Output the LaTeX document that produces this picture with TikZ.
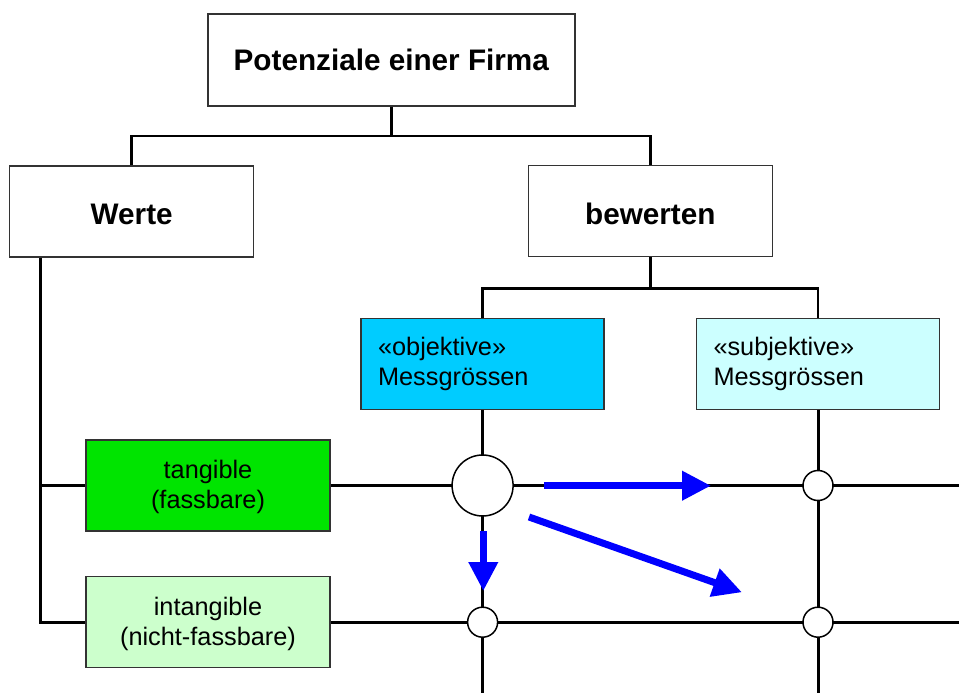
\documentclass[tikz,border=0pt]{standalone}
\usepackage{fontspec}
\setmainfont{Liberation Sans}
\usetikzlibrary{arrows.meta}
\definecolor{objcol}{HTML}{00CCFF}
\definecolor{subjcol}{HTML}{CCFFFF}
\definecolor{tangcol}{HTML}{00E400}
\definecolor{intcol}{HTML}{CCFFCC}
\definecolor{arrcol}{HTML}{0000FF}
\begin{document}
\begin{tikzpicture}[x=1pt,y=-1pt,
  box/.style={draw=black!80, line width=1.5pt, inner sep=0pt, align=center},
  titlebox/.style={box, fill=white, minimum width=244pt, minimum height=91pt,
     font=\fontsize{29.7}{34}\selectfont\bfseries},
  measbox/.style={box, minimum height=91pt, text width=209pt, inner xsep=17pt, align=left,
     font=\fontsize{25.3}{29.5}\selectfont},
  valbox/.style={box, minimum width=244pt, minimum height=91pt,
     font=\fontsize{25.3}{30.5}\selectfont, text depth=2pt},
  conn/.style={line width=2.7pt, black},
  grid/.style={line width=3pt, black},
  bigc/.style={circle, draw=black, line width=1.5pt, fill=white, minimum size=61pt, inner sep=0pt},
  smallc/.style={circle, draw=black, line width=1.5pt, fill=white, minimum size=30pt, inner sep=0pt},
  flow/.style={line width=7pt, arrcol, -{Triangle[length=29pt,width=28pt]}}
]
\useasboundingbox (0,0) rectangle (959,693);

% boxes
\node[titlebox, minimum width=367pt, minimum height=92pt] (top) at (391.3,59.8) {Potenziale einer Firma};
\node[titlebox, text height=27pt, text depth=0pt] (werte) at (131.7,211.3) {Werte};
\node[titlebox, text height=27pt, text depth=0pt] (bew) at (650.3,211) {bewerten};
\node[measbox, fill=objcol] (obj) at (482.6,363.8) {«objektive»\\Messgrössen};
\node[measbox, fill=subjcol] (subj) at (818,363.8) {«subjektive»\\Messgrössen};
\node[valbox, fill=tangcol] (tang) at (208,485.5) {tangible\\(fassbare)};
\node[valbox, fill=intcol] (intang) at (208,622.2) {intangible\\(nicht-fassbare)};

% tree connectors
\coordinate (j1) at (391.3,136);
\coordinate (j2) at (650.3,288.3);
\draw[conn] (top.south) -- (j1);
\draw[conn] (werte.north) |- (j1) -| (bew.north);
\draw[conn] (bew.south) -- (j2);
\draw[conn] (obj.north) |- (j2) -| (subj.north);

% left spine
\coordinate (wl) at (40.7,624);
\draw[grid] (werte.south -| wl) |- (intang.west);
\draw[grid] (wl |- tang.west) -- (tang.west);

% grid to the right and bottom
\coordinate (re) at (959,0);
\coordinate (bot) at (0,693);
\draw[grid] (tang.east) -- (tang.east -| re);
\draw[grid] (intang.east) -- (intang.east -| re);
\draw[grid] (obj.south) -- (obj.south |- bot);
\draw[grid] (subj.south) -- (subj.south |- bot);

% crossing circles
\node[bigc] (c0) at (obj.south |- tang.east) {};
\node[smallc] (c1) at (subj.south |- tang.east) {};
\node[smallc] (c2) at (obj.south |- intang.east) {};
\node[smallc] (c3) at (subj.south |- intang.east) {};

% blue arrows
\coordinate (a1s) at (544,485.7);
\coordinate (a1e) at (711,485.7);
\coordinate (a2s) at (483.3,531);
\coordinate (a2e) at (483.3,591);
\coordinate (a3s) at (529,517);
\coordinate (a3e) at (742,592.3);
\draw[flow] (a1s) -- (a1e);
\draw[flow] (a2s) -- (a2e);
\draw[flow] (a3s) -- (a3e);
\end{tikzpicture}
\end{document}
